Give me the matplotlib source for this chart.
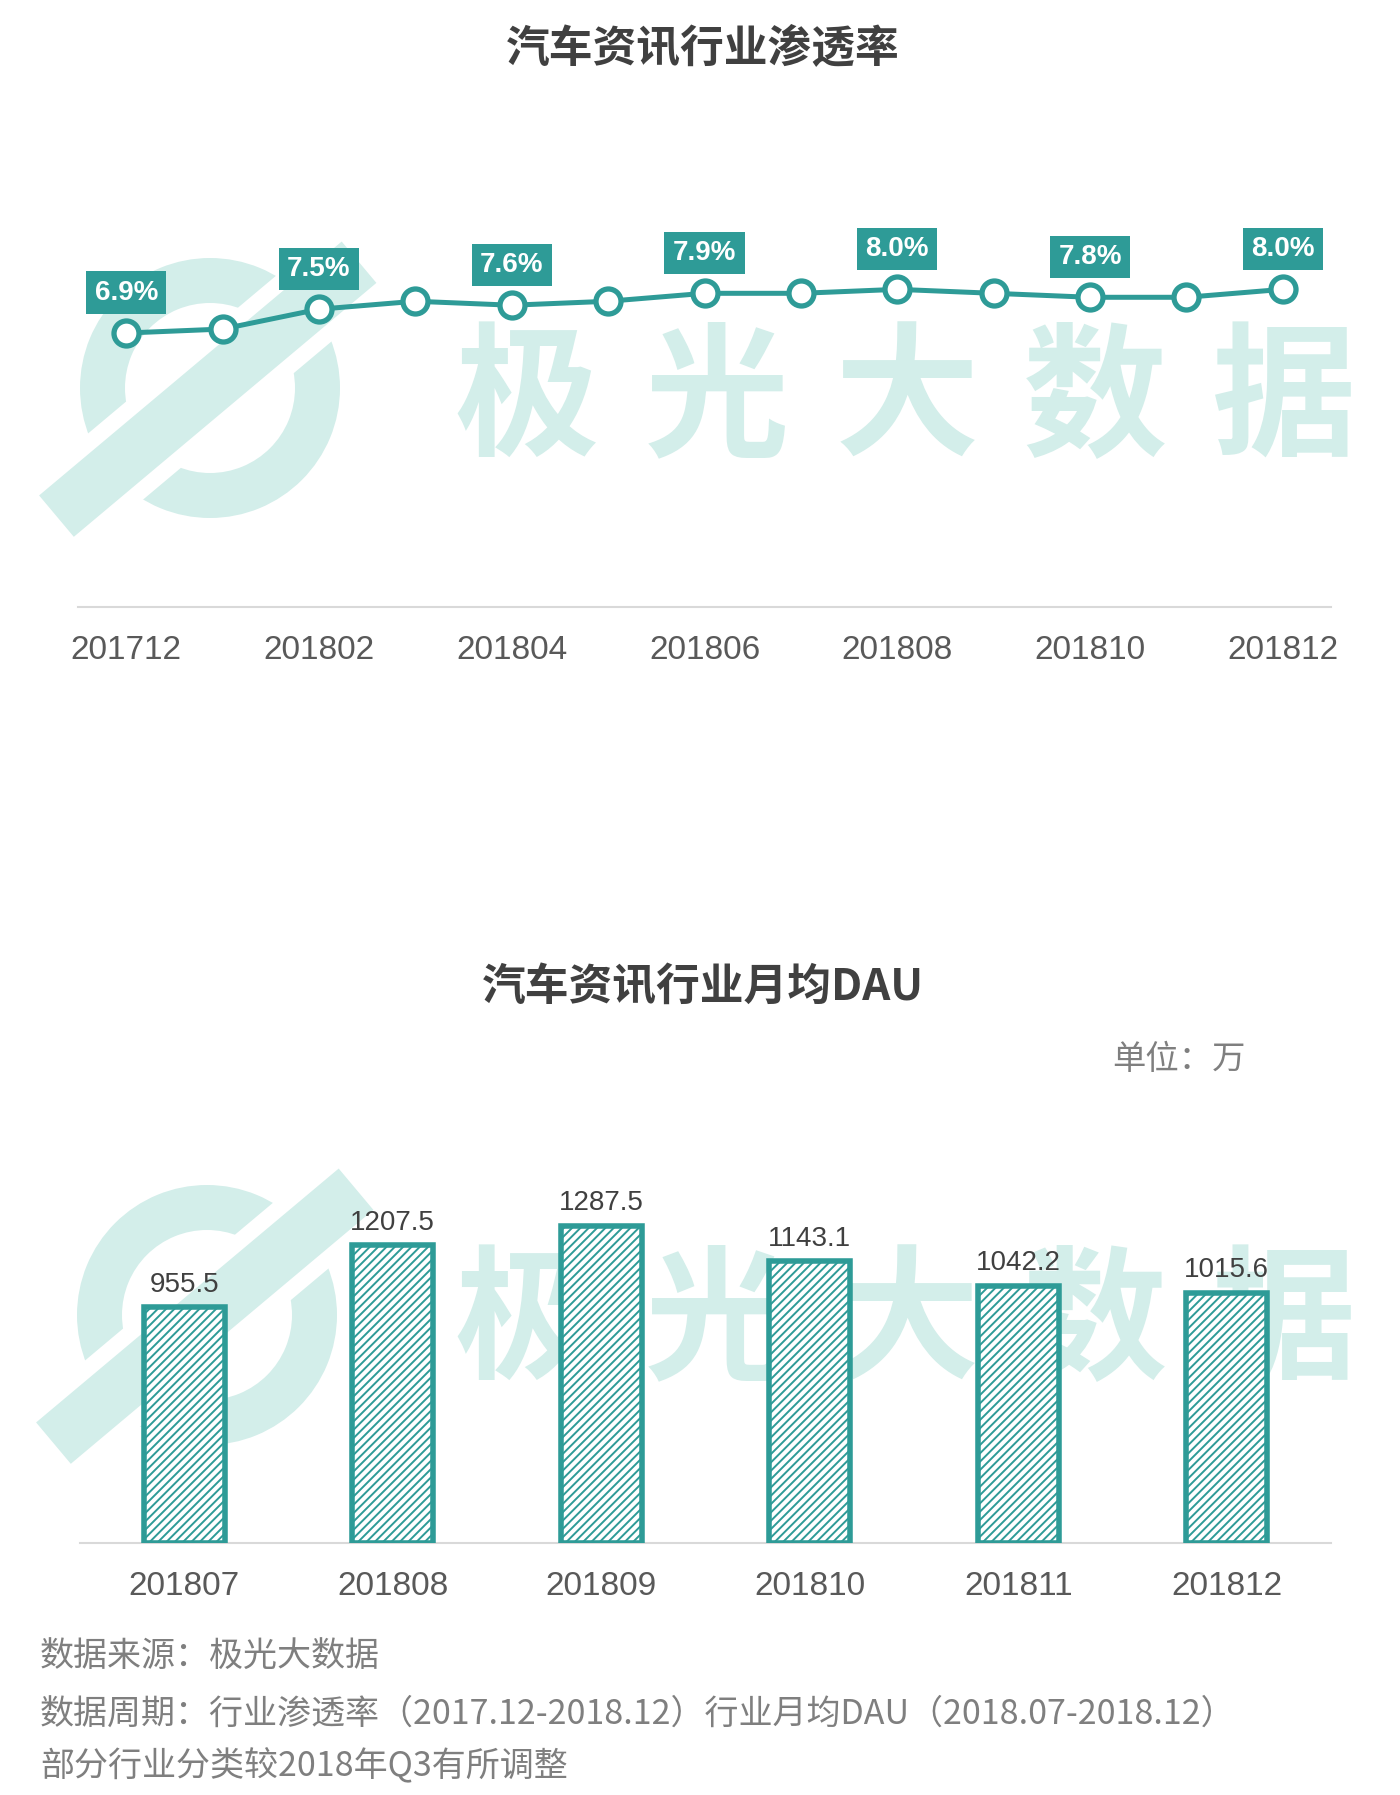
import numpy as np
import matplotlib
matplotlib.use("Agg")
import matplotlib.pyplot as plt
from matplotlib.patches import Wedge, Polygon

plt.rcParams['font.family'] = ['Noto Sans CJK SC', 'DejaVu Sans']

# ---------------- data ----------------
months_line = ['201712', '201801', '201802', '201803', '201804', '201805', '201806',
               '201807', '201808', '201809', '201810', '201811', '201812']
penetration = [6.9, 7.0, 7.5, 7.7, 7.6, 7.7, 7.9, 7.9, 8.0, 7.9, 7.8, 7.8, 8.0]

months_bar = ['201807', '201808', '201809', '201810', '201811', '201812']
dau = [955.5, 1207.5, 1287.5, 1143.1, 1042.2, 1015.6]

title1 = '汽车资讯行业渗透率'
title2 = '汽车资讯行业月均DAU'
unit_text = '单位：万'
footer = ['数据来源：极光大数据',
          '数据周期：行业渗透率（2017.12-2018.12）行业月均DAU（2018.07-2018.12）',
          '部分行业分类较2018年Q3有所调整']
watermark = '极光大数据'

TEAL = '#2E9B97'
MINT = '#D3EEEA'
GRAY_TXT = '#595959'
W, H = 1400, 1795

fig = plt.figure(figsize=(W / 100, H / 100), dpi=100)
fig.patch.set_facecolor('white')

# ---------------- watermark background ----------------
bg = fig.add_axes([0, 0, 1, 1], zorder=0)
bg.set_xlim(0, W)
bg.set_ylim(0, H)
bg.axis('off')


def draw_logo(cx, cy_full, text_cy_full):
    cy = H - cy_full
    ring = Wedge((cx, cy), 130, 0, 360, width=45, facecolor=MINT, edgecolor='none')
    bg.add_patch(ring)
    ang = np.deg2rad(40)
    d = np.array([np.cos(ang), np.sin(ang)])
    n = np.array([-np.sin(ang), np.cos(ang)])
    c = np.array([cx - 8, cy - 6])

    def band(t0, t1, w):
        return [c + t0 * d + w / 2 * n, c + t1 * d + w / 2 * n,
                c + t1 * d - w / 2 * n, c + t0 * d - w / 2 * n]
    bg.add_patch(Polygon(band(-200, 215, 86), closed=True, facecolor='white', edgecolor='none'))
    bg.add_patch(Polygon(band(-190, 205, 54), closed=True, facecolor=MINT, edgecolor='none'))
    xs = [527, 717, 907, 1095, 1284]
    for ch, x in zip(watermark, xs):
        bg.text(x, H - text_cy_full, ch, fontsize=104, fontweight='bold', color=MINT,
                ha='center', va='center')


draw_logo(210, 388, 402)
draw_logo(207, 1315, 1325)

# ---------------- line chart ----------------
ax1 = fig.add_axes([78 / W, 1 - 607 / H, (1331 - 78) / W, (607 - 200) / H], zorder=2)
ax1.patch.set_alpha(0)
x1 = np.arange(len(months_line))
ax1.plot(x1, penetration, color=TEAL, lw=3.6, marker='o', markersize=18,
         markerfacecolor='white', markeredgecolor=TEAL, markeredgewidth=3.8, zorder=3)
for i, v in enumerate(penetration):
    if i % 2 == 0:
        ax1.annotate(f'{v:.1f}%', (i, v), xytext=(0, 29), textcoords='offset points',
                     ha='center', va='center', color='white', fontsize=20, fontweight='bold',
                     family=['Liberation Sans', 'DejaVu Sans'],
                     bbox=dict(boxstyle='square,pad=0.3', fc=TEAL, ec='none'), zorder=4)
ax1.set_xlim(-0.5, len(months_line) - 0.5)
ax1.set_ylim(0, 10.25)
ax1.set_xticks(x1[::2])
ax1.set_xticklabels(months_line[::2], fontsize=24, color=GRAY_TXT,
                    family=['Liberation Sans', 'DejaVu Sans'])
ax1.set_yticks([])
for s in ['top', 'left', 'right']:
    ax1.spines[s].set_visible(False)
ax1.spines['bottom'].set_color('#D9D9D9')
ax1.spines['bottom'].set_linewidth(1.5)
ax1.tick_params(axis='x', length=0, pad=20)

fig.text(703 / W, 1 - 49 / H, title1, ha='center', va='center', fontsize=31.5,
         fontweight='bold', color='#404040')

# ---------------- bar chart ----------------
plt.rcParams['hatch.linewidth'] = 1.4
ax2 = fig.add_axes([80 / W, 1 - 1543 / H, (1331 - 80) / W, (1543 - 1050) / H], zorder=2)
ax2.patch.set_alpha(0)
x2 = np.arange(len(months_bar))
bars = ax2.bar(x2, dau, width=0.39, facecolor='white', edgecolor=TEAL, linewidth=4.0,
               hatch='////', zorder=3)
for i, v in enumerate(dau):
    ax2.annotate(f'{v:.1f}', (i, v), xytext=(0, 7), textcoords='offset points',
                 ha='center', va='bottom', fontsize=20, color='#404040',
                 family=['Liberation Sans', 'DejaVu Sans'])
ax2.set_xlim(-0.5, len(months_bar) - 0.5)
ax2.set_ylim(0, 2000)
ax2.set_xticks(x2)
ax2.set_xticklabels(months_bar, fontsize=24, color=GRAY_TXT,
                    family=['Liberation Sans', 'DejaVu Sans'])
ax2.set_yticks([])
for s in ['top', 'left', 'right']:
    ax2.spines[s].set_visible(False)
ax2.spines['bottom'].set_color('#D9D9D9')
ax2.spines['bottom'].set_linewidth(1.5)
ax2.tick_params(axis='x', length=0, pad=20)

fig.text(703 / W, 1 - 987 / H, title2, ha='center', va='center', fontsize=31.5,
         fontweight='bold', color='#404040')
fig.text(1179 / W, 1 - 1059 / H, unit_text, ha='center', va='center', fontsize=24,
         color='#7F7F7F', style='italic')

for txt, yy in zip(footer, [1656, 1714, 1766]):
    fig.text(40 / W, 1 - yy / H, txt, ha='left', va='center', fontsize=24.5,
             color='#7F7F7F', style='italic')

fig.savefig('out.png', dpi=100, facecolor='white')
